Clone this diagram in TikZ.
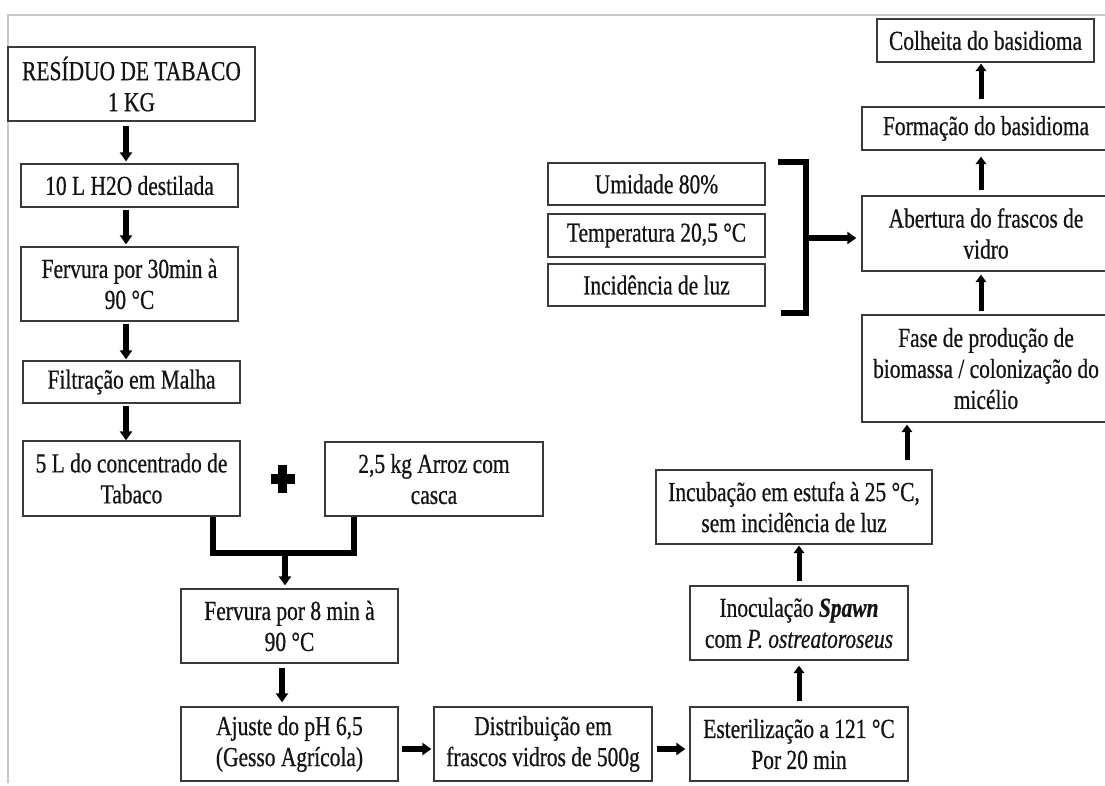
\documentclass[tikz,border=0pt]{standalone}
\usepackage{fontspec}
\setmainfont{Liberation Serif}[FakeStretch=0.78,FakeBold=0.6]
\usetikzlibrary{arrows.meta,calc}
\definecolor{boxc}{HTML}{3A3A3A}
\definecolor{txtc}{HTML}{141414}
\definecolor{framec}{HTML}{C8C8C8}
\tikzset{
  box/.style={draw=boxc, line width=1.3pt, inner sep=0pt, align=center, text=txtc,
    font=\fontsize{27.5}{31}\selectfont},
  arr/.style={line width=5.2pt, -{Triangle[width=12pt,length=9pt]}},
  uparr/.style={line width=5pt, -{Triangle[width=10.5pt,length=7.5pt]}},
  brk/.style={line width=6pt, line join=miter},
}
\begin{document}
\begin{tikzpicture}[x=1pt,y=-1pt]
\clip (0,0) rectangle (1105,785);
\fill[white] (0,0) rectangle (1105,785);
% frame
\draw[framec, line width=2pt] (8,783) -- (8,15) -- (1105,15);

% boxes
\node[box, minimum width=247pt, minimum height=74pt] (res) at (131.5,84) {RESÍDUO DE TABACO\\1 KG};
\node[box, minimum width=217pt, minimum height=43pt] (h2o) at (129.5,185.5) {10 L H2O destilada};
\node[box, minimum width=217pt, minimum height=74pt] (ferva) at (129.5,284) {Fervura por 30min à\\90 °C};
\node[box, minimum width=217pt, minimum height=42pt] (filt) at (131.5,382) {Filtração em Malha};
\node[box, minimum width=217pt, minimum height=75pt] (conc) at (131.5,478.5) {5 L do concentrado de\\Tabaco};
\node[box, minimum width=218pt, minimum height=74pt] (arroz) at (434,479) {2,5 kg Arroz com\\casca};
\node[box, minimum width=217pt, minimum height=74pt] (fervb) at (289.5,626) {Fervura por 8 min à\\90 °C};
\node[box, minimum width=217pt, minimum height=74pt] (ajuste) at (289.5,744) {Ajuste do pH 6,5\\(Gesso Agrícola)};
\node[box, minimum width=218pt, minimum height=74pt] (distr) at (543,744) {Distribuição em\\frascos vidros de 500g};
\node[box, minimum width=218pt, minimum height=74pt] (ester) at (799,744) {Esterilização a 121 °C\\Por 20 min};
\node[box, minimum width=218pt, minimum height=74pt] (inoc) at (799,623) {Inoculação \textbf{\textit{Spawn}}\\com \textit{P. ostreatoroseus}};
\node[box, minimum width=276pt, minimum height=74pt] (incub) at (794,507) {Incubação em estufa à 25 °C,\\sem incidência de luz};
\node[box, minimum width=248pt, minimum height=107pt] (fase) at (986,368.5) {Fase de produção de\\biomassa / colonização do\\micélio};
\node[box, minimum width=248pt, minimum height=75pt] (abert) at (986,233.5) {Abertura do frascos de\\vidro};
\node[box, minimum width=248pt, minimum height=43pt] (form) at (986,128.5) {Formação do basidioma};
\node[box, minimum width=217pt, minimum height=43pt] (colh) at (985.5,40.5) {Colheita do basidioma};
\node[box, minimum width=217pt, minimum height=42pt] (umid) at (656.5,184) {Umidade 80\%};
\node[box, minimum width=217pt, minimum height=43pt] (temp) at (656.5,235.5) {Temperatura 20,5 °C};
\node[box, minimum width=217pt, minimum height=42pt] (incid) at (656.5,285) {Incidência de luz};

% left column arrows
\draw[arr, shorten <=4pt, shorten >=2pt] ([xshift=-5.5pt]res.south) -- ([xshift=-5.5pt]res.south |- h2o.north);
\draw[arr, shorten <=2pt, shorten >=2pt] ([xshift=-3.5pt]h2o.south) -- ([xshift=-3.5pt]h2o.south |- ferva.north);
\draw[arr, shorten <=2pt, shorten >=1pt] ([xshift=-3.5pt]ferva.south) -- ([xshift=-3.5pt]ferva.south |- filt.north);
\draw[arr, shorten <=2pt, shorten >=0pt] ([xshift=-5.5pt]filt.south) -- ([xshift=-5.5pt]filt.south |- conc.north);

% plus sign
\fill[black] (278,465) rectangle (287,493);
\fill[black] (271,474) rectangle (295,484);

% merge bracket
\coordinate (mj) at (285,553);
\draw[brk] ($(conc.south)+(81.5,0)$) |- (mj) -| ($(arroz.south)+(-80,0)$);
\draw[arr, shorten >=3pt] (mj) -- (mj |- fervb.north);
\draw[arr, shorten <=4pt, shorten >=4pt] ([xshift=-7.5pt]fervb.south) -- ([xshift=-7.5pt]fervb.south |- ajuste.north);

% bottom row
\draw[arr, shorten <=3pt, shorten >=2pt] ([yshift=-5pt]ajuste.east) -- ([yshift=-5pt]ajuste.east -| distr.west);
\draw[arr, shorten <=4pt, shorten >=4pt] ([yshift=-5pt]distr.east) -- ([yshift=-5pt]distr.east -| ester.west);

% right column
\draw[uparr, shorten <=5pt, shorten >=5pt] (ester.north) -- (inoc.south);
\draw[uparr, shorten <=4pt, shorten >=1pt] (inoc.north) -- (inoc.north |- incub.south);
\draw[uparr, shorten <=9pt, shorten >=2pt] ([xshift=113pt]incub.north) -- ([xshift=113pt]incub.north |- fase.south);
\draw[uparr, shorten <=3pt, shorten >=3pt] ([xshift=-5pt]fase.north) -- ([xshift=-5pt]fase.north |- abert.south);
\draw[uparr, shorten <=5pt, shorten >=6pt] ([xshift=-5pt]abert.north) -- ([xshift=-5pt]abert.north |- form.south);
\draw[uparr, shorten <=7pt, shorten >=1pt] ([xshift=-5pt]form.north) -- ([xshift=-5pt]form.north |- colh.south);

% conditions bracket
\coordinate (bt) at (778,162);
\coordinate (bb) at (781,313);
\coordinate (bm) at (806,238);
\draw[brk, line width=5.5pt] (bt) -- ++(28,0) |- (bb);
\draw[arr, shorten >=5pt] (bm) -- (bm -| abert.west);
\end{tikzpicture}
\end{document}
